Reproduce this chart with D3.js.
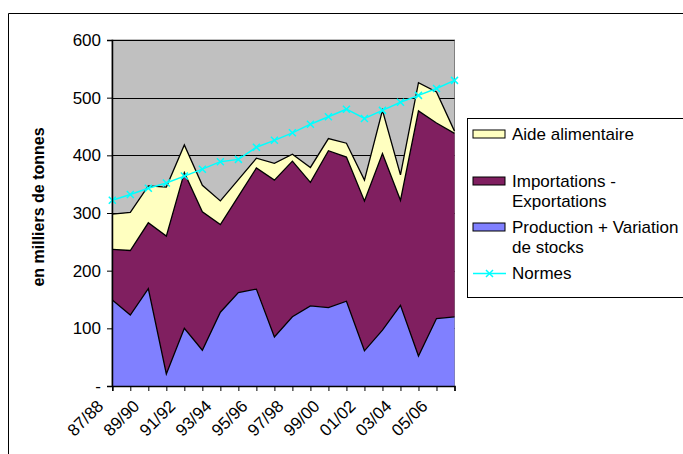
<!DOCTYPE html>
<html>
<head>
<meta charset="utf-8">
<script src="https://cdn.jsdelivr.net/npm/d3@7"></script>
<style>
  body { margin: 0; background: #fff; }
  text { font-family: Arial, "Liberation Sans", sans-serif; }
</style>
</head>
<body>
<svg width="683" height="454"></svg>
<script>
// campagnes
var categories = ["87/88","88/89","89/90","90/91","91/92","92/93","93/94","94/95","95/96","96/97",
                  "97/98","98/99","99/00","00/01","01/02","02/03","03/04","04/05","05/06","06/07"];

var production = [149,123,169,21,100,62,128,162,168,85,120,139,136,147,61,97,140,52,117,120];
var importations = [88,112,114,239,270,240,152,167,210,272,270,214,272,250,260,306,182,425,339,318];
var aide = [61,66,64,85,48,46,41,29,17,29,12,26,21,24,36,75,44,49,54,4];
var normes = [322,332,343,352,364,376,389,393,414,426,439,454,467,480,464,478,492,504,516,530];

var yTicks = [0,100,200,300,400,500,600];

var series = [
  {key: "production", label: ["Production + Variation", "de stocks"], color: "#8080FF"},
  {key: "importations", label: ["Importations -", "Exportations"], color: "#801F60"},
  {key: "aide", label: ["Aide alimentaire"], color: "#FFFFC0"}
];

var table = categories.map(function(c, i) {
  return {cat: c, production: production[i], importations: importations[i], aide: aide[i]};
});

var svg = d3.select("svg");

// cadre du graphique
svg.append("path")
  .attr("d", "M8.5,460 L8.5,13.5 L690,13.5")
  .attr("fill", "none").attr("stroke", "#000").attr("stroke-width", 1);

var pLeft = 112, pRight = 454.5, pTop = 40, pBottom = 386;

var x = d3.scalePoint().domain(categories).range([pLeft + 0.3, pRight]);
var y = d3.scaleLinear().domain([0, 600]).range([pBottom, pTop]);

// fond
svg.append("rect")
  .attr("x", pLeft).attr("y", pTop)
  .attr("width", pRight - pLeft).attr("height", pBottom - pTop)
  .attr("fill", "#C0C0C0")
  .attr("stroke", "#808080").attr("stroke-width", 1);

// grille
svg.append("g").selectAll("line")
  .data(yTicks.filter(function(d) { return d > 0; }))
  .join("line")
  .attr("x1", pLeft).attr("x2", pRight)
  .attr("y1", function(d) { return Math.round(y(d)) + 0.5; })
  .attr("y2", function(d) { return Math.round(y(d)) + 0.5; })
  .attr("stroke", "#000").attr("stroke-width", 1);

var stack = d3.stack().keys(series.map(function(s) { return s.key; }));
var stacked = stack(table);

var area = d3.area()
  .x(function(d) { return x(d.data.cat); })
  .y0(function(d) { return y(d[0]); })
  .y1(function(d) { return y(d[1]); });

var topLine = d3.line()
  .x(function(d) { return x(d.data.cat); })
  .y(function(d) { return y(d[1]); });

svg.append("g").selectAll("path")
  .data(stacked)
  .join("path")
  .attr("d", area)
  .attr("fill", function(d, i) { return series[i].color; });

svg.append("g").selectAll("path")
  .data(stacked)
  .join("path")
  .attr("d", topLine)
  .attr("fill", "none")
  .attr("stroke", "#000").attr("stroke-width", 1.3)
  .attr("stroke-linejoin", "miter");

// normes
var normLine = d3.line()
  .x(function(d, i) { return x(categories[i]); })
  .y(function(d) { return y(d); });

svg.append("path")
  .datum(normes)
  .attr("d", normLine)
  .attr("fill", "none")
  .attr("stroke", "#00FFFF").attr("stroke-width", 1.5);

function cross(g, cx, cy) {
  g.append("path")
    .attr("d", "M" + (cx - 3.5) + "," + (cy - 3.5) + "L" + (cx + 3.5) + "," + (cy + 3.5) +
               "M" + (cx - 3.5) + "," + (cy + 3.5) + "L" + (cx + 3.5) + "," + (cy - 3.5))
    .attr("stroke", "#00FFFF").attr("stroke-width", 1.5);
}
var marks = svg.append("g");
normes.forEach(function(v, i) { cross(marks, x(categories[i]), y(v)); });

// axes
var yAxis = d3.axisLeft(y)
  .tickValues(yTicks)
  .tickSize(5)
  .tickPadding(6)
  .tickFormat(function(d) { return d === 0 ? "-" : d; });

var gy = svg.append("g").attr("transform", "translate(" + pLeft + ",0)").call(yAxis);
gy.select(".domain").attr("stroke", "#000").attr("stroke-width", 1.5);
gy.selectAll("text").attr("font-size", 17).attr("fill", "#000");

var xAxis = d3.axisBottom(x).tickSize(5).tickFormat("");
var gx = svg.append("g").attr("transform", "translate(0," + pBottom + ")").call(xAxis);
gx.select(".domain").attr("stroke", "#000").attr("stroke-width", 1.5);

svg.append("g").selectAll("text")
  .data(categories.filter(function(c, i) { return i % 2 === 0; }))
  .join("text")
  .attr("transform", function(d) { return "translate(" + (x(d) - 12) + "," + (pBottom + 17) + ") rotate(-45)"; })
  .attr("text-anchor", "end")
  .attr("font-size", 17)
  .attr("dy", "0.35em")
  .text(function(d) { return d; });

svg.append("text")
  .attr("transform", "translate(44,207) rotate(-90)")
  .attr("text-anchor", "middle")
  .attr("font-size", 16)
  .attr("font-weight", "bold")
  .text("en milliers de tonnes");

// legende
var lg = svg.append("g");
lg.append("rect")
  .attr("x", 467.5).attr("y", 118.5)
  .attr("width", 240).attr("height", 179)
  .attr("fill", "#fff").attr("stroke", "#000");

var legendRows = [
  {s: series[2], y: 134},
  {s: series[1], y: 181},
  {s: series[0], y: 227}
];
legendRows.forEach(function(r) {
  lg.append("rect")
    .attr("x", 473).attr("y", r.y - 4)
    .attr("width", 32).attr("height", 8)
    .attr("fill", r.s.color).attr("stroke", "#000").attr("stroke-width", 1);
  r.s.label.forEach(function(t, j) {
    lg.append("text")
      .attr("x", 512).attr("y", r.y + 6 + j * 20)
      .attr("font-size", 17)
      .text(t);
  });
});
lg.append("line")
  .attr("x1", 473).attr("x2", 506).attr("y1", 273.5).attr("y2", 273.5)
  .attr("stroke", "#00FFFF").attr("stroke-width", 1.5);
cross(lg, 489.5, 273.5);
lg.append("text").attr("x", 512).attr("y", 279).attr("font-size", 17).text("Normes");
</script>
</body>
</html>
